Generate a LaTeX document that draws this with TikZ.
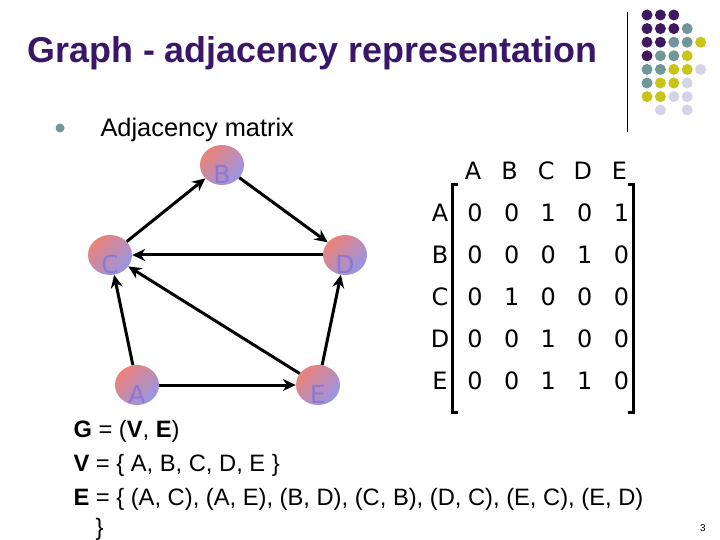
\documentclass[tikz,border=0pt]{standalone}
\usepackage{fontspec}
\setmainfont{Liberation Sans}
\newfontfamily\tahoma{DejaVu Sans}
\usetikzlibrary{arrows.meta,shapes.geometric}
\definecolor{titlepurple}{RGB}{58,22,104}
\definecolor{dotP}{RGB}{64,24,96}
\definecolor{dotT}{RGB}{112,152,152}
\definecolor{dotY}{RGB}{200,196,24}
\definecolor{dotL}{RGB}{212,212,230}
\definecolor{vlabel}{RGB}{140,120,210}
\definecolor{salmon}{RGB}{236,130,120}
\definecolor{lavender}{RGB}{150,150,230}
\tikzset{
  vertex/.style={ellipse, minimum width=44bp, minimum height=40bp, inner sep=0pt,
    top color=salmon, bottom color=lavender, shading angle=45},
  vname/.style={font=\tahoma\fontsize{25}{25}\selectfont, text=vlabel},
  edge/.style={line width=3bp, -{Stealth[length=13bp,width=12bp]}},
  ent/.style={font=\tahoma\fontsize{24}{24}\selectfont}
}
\begin{document}
\begin{tikzpicture}[x=1bp,y=-1bp]
\useasboundingbox (0,0) rectangle (720,540);
% title
\node[anchor=base west, font=\bfseries\fontsize{36}{36}\selectfont, text=titlepurple] (title) at (24,63) {Graph - adjacency representation};
\draw[line width=0.8bp] (627,12) -- (627,132);
\foreach \row/\cols in {0/{P,P,P},1/{P,P,P,T},2/{P,P,T,T,Y},3/{P,T,T,Y},4/{T,T,Y,Y,L},5/{T,Y,Y,L},6/{Y,Y,L,L}}{
  \foreach \c [count=\i from 0] in \cols {
    \fill[dot\c] (647+13.4*\i,15+13.6*\row) circle (5.5bp);
  }
}
\fill[dotL] (660.4,110) circle (5.5bp);
\fill[dotL] (687.2,110) circle (5.5bp);
% bullet
\fill[dotT] (60,128) circle (4.5bp);
\node[anchor=base west, font=\fontsize{25.5}{25.5}\selectfont] (sub) at (97,137) {Adjacency matrix};
% graph
\node[vertex] (B) at (222,165) {};
\node[vertex] (C) at (110,255) {};
\node[vertex] (D) at (345,255) {};
\node[vertex] (A) at (137,385) {};
\node[vertex] (E) at (318,385) {};
\foreach \v in {A,B,C,D,E}{
  \node[vname] at ([yshift=-9bp]\v.center) {\v};
}
\draw[edge] (C) -- (B);
\draw[edge] (B) -- (D);
\draw[edge] (D) -- (C);
\draw[edge] (E) -- (C);
\draw[edge] (A) -- (C);
\draw[edge] (A) -- (E);
\draw[edge] (E) -- (D);
% matrix
\foreach \h [count=\i from 0] in {A,B,C,D,E}{
  \node[ent] (h\h) at (473+36.6*\i,171) {\h};
  \node[ent] (r\h) at (440,213+42*\i) {\h};
}
\foreach \vals [count=\r from 0] in {{0,0,1,0,1},{0,0,0,1,0},{0,1,0,0,0},{0,0,1,0,0},{0,0,1,1,0}}{
  \foreach \x [count=\c from 0] in \vals {
    \node[ent] at (475+36.6*\c,213+42*\r) {\x};
  }
}
\draw[line width=3bp] (458,185) -- (452.5,185) -- (452.5,412) -- (458,412);
\draw[line width=3bp] (628,185) -- (633.5,185) -- (633.5,412) -- (628,412);
% sets
\begin{scope}[every node/.style={anchor=base west, font=\fontsize{23.8}{23.8}\selectfont}]
\node (G) at (70,437) {\textbf{G} = (\textbf{V}, \textbf{E})};
\node (V) at (70,471) {\textbf{V} = \{ A, B, C, D, E \}};
\node (Es) at (70,505) {\textbf{E} = \{ (A, C), (A, E), (B, D), (C, B), (D, C), (E, C), (E, D)};
\node (close) at (92,535) {\}};
\end{scope}
\node[font=\fontsize{10}{10}\selectfont] (pg) at (703,528) {3};
\end{tikzpicture}
\end{document}
